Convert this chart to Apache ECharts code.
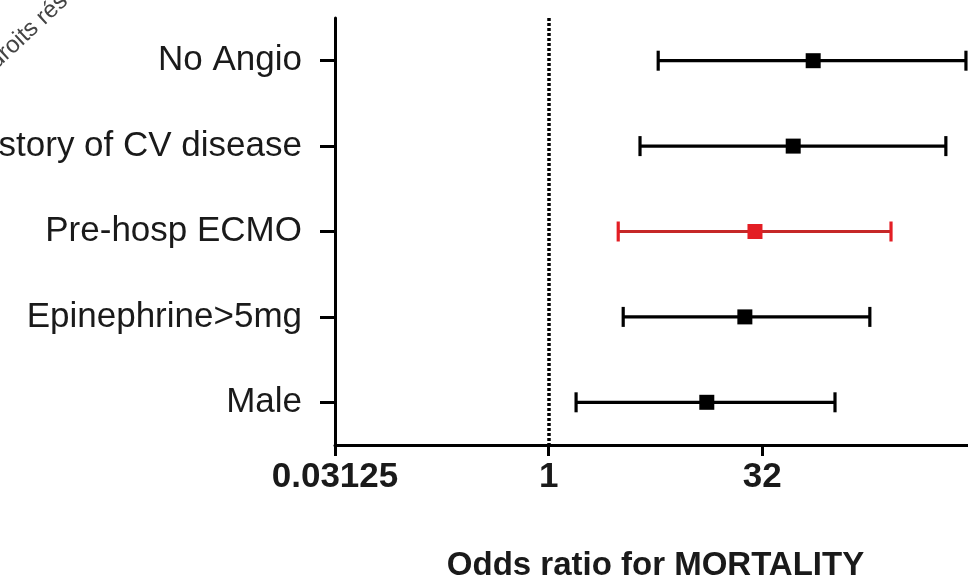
<!DOCTYPE html>
<html>
<head>
<meta charset="utf-8">
<script src="https://cdn.jsdelivr.net/npm/echarts@6/dist/echarts.min.js"></script>
<style>
  html, body { margin: 0; padding: 0; background: #fff; }
  #chart { width: 968px; height: 584px; }
</style>
</head>
<body>
<div id="chart"></div>
<script>
// Multivariable predictors of mortality: odds ratio with 95% CI (log2 scale)
const categories = ['No Angio', 'History of CV disease', 'Pre-hosp ECMO', 'Epinephrine>5mg', 'Male'];
const oddsRatio  = [73.0, 52.8, 28.4, 24.1, 13.0];
const ciLower    = [5.91, 4.40, 3.09, 3.35, 1.56];
const ciUpper    = [870, 628, 258, 183, 104];
const highlight  = [false, false, true, false, false];
const axisTicks  = [0.03125, 1, 32, 1024];
const referenceLine = 1;

const FONT = "'Liberation Sans', Arial, sans-serif";
const INK = '#000';
const RED_LINE = '#c62828';
const RED_BOX = '#e31e24';

const rows = categories.map((c, i) => [i, ciLower[i], oddsRatio[i], ciUpper[i], highlight[i] ? 1 : 0]);

const chart = echarts.init(document.getElementById('chart'), null, { renderer: 'canvas' });

chart.setOption({
  backgroundColor: '#fff',
  animation: false,
  grid: { left: 335, top: 18, width: 641, height: 427, containLabel: false, outerBoundsMode: 'none' },
  xAxis: {
    type: 'log',
    logBase: 2,
    min: axisTicks[0],
    max: axisTicks[axisTicks.length - 1],
    interval: 5,
    splitLine: { show: false },
    axisLine: { show: true, onZero: false, lineStyle: { color: INK, width: 3 } },
    axisTick: { show: true, length: 11, lineStyle: { color: INK, width: 3 } },
    axisLabel: {
      show: true, margin: 15, color: '#1a1a1a', fontFamily: FONT, fontSize: 35, fontWeight: 'bold',
      showMaxLabel: false,
      formatter: v => String(+v.toPrecision(6))
    },
    name: 'Odds ratio for MORTALITY',
    nameLocation: 'middle',
    nameGap: 104,
    nameTextStyle: { color: '#1a1a1a', fontFamily: FONT, fontSize: 33, fontWeight: 'bold' }
  },
  yAxis: {
    type: 'category',
    data: categories,
    inverse: true,
    boundaryGap: true,
    axisLine: { show: true, lineStyle: { color: INK, width: 3 } },
    axisTick: { show: true, alignWithLabel: true, length: 15, lineStyle: { color: INK, width: 3 } },
    axisLabel: { margin: 33, color: '#1a1a1a', fontFamily: FONT, fontSize: 35 },
    splitLine: { show: false }
  },
  series: [{
    type: 'custom',
    clip: false,
    encode: { x: [1, 2, 3], y: 0 },
    data: rows,
    renderItem: (params, api) => {
      const cat = api.value(0);
      const lo = api.coord([api.value(1), cat]);
      const mid = api.coord([api.value(2), cat]);
      const hi = api.coord([api.value(3), cat]);
      const isRed = api.value(4) === 1;
      const lineColor = isRed ? RED_LINE : INK;
      const boxColor = isRed ? RED_BOX : INK;
      const capH = 10;
      const box = 15;
      const lw = 3.2;
      return {
        type: 'group',
        children: [
          { type: 'line', shape: { x1: lo[0], y1: lo[1], x2: hi[0], y2: hi[1] },
            style: { stroke: lineColor, lineWidth: lw } },
          { type: 'line', shape: { x1: lo[0], y1: lo[1] - capH, x2: lo[0], y2: lo[1] + capH },
            style: { stroke: boxColor, lineWidth: lw } },
          { type: 'line', shape: { x1: hi[0], y1: hi[1] - capH, x2: hi[0], y2: hi[1] + capH },
            style: { stroke: boxColor, lineWidth: lw } },
          { type: 'rect', shape: { x: mid[0] - box / 2, y: mid[1] - box / 2, width: box, height: box },
            style: { fill: boxColor } }
        ]
      };
    },
    markLine: {
      silent: true,
      symbol: 'none',
      label: { show: false },
      lineStyle: { color: INK, width: 3.5, type: [3, 2] },
      data: [{ xAxis: referenceLine }]
    }
  }],
  graphic: [{
    type: 'text',
    rotation: Math.PI / 4.2,
    x: -50, y: 104,
    style: { text: 'Tous droits réservés', fill: '#444', font: "24px " + FONT, verticalAlign: 'middle' }
  }]
});
</script>
</body>
</html>
